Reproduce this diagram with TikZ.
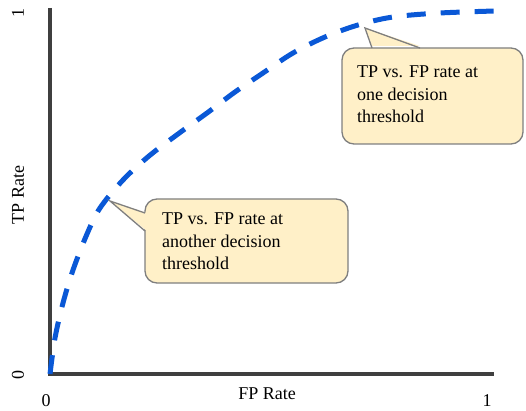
\documentclass[tikz,border=0pt]{standalone}
\usepackage{fontspec}
\setmainfont{Liberation Serif}
\begin{document}
\begin{tikzpicture}[x=1pt,y=-1pt,
  axis/.style={line width=4.5pt,draw=axisgray},
  roc/.style={line width=5pt,draw=rocblue,dash pattern=on 19pt off 15pt},
  callout/.style={draw=calloutborder,fill=calloutfill,line width=1.3pt},
  pointer/.style={draw=calloutborder,line width=1.3pt,line join=miter},
  ctext/.style={font=\fontsize{18}{22.5}\selectfont,align=left,inner sep=0pt,anchor=north west},
  lbl/.style={font=\fontsize{18}{22}\selectfont,inner sep=0pt}]
\definecolor{axisgray}{HTML}{3F3F3F}
\definecolor{rocblue}{HTML}{0A58D6}
\definecolor{calloutborder}{HTML}{7F7F7F}
\definecolor{calloutfill}{HTML}{FFF0C8}
\useasboundingbox (0,0) rectangle (526,411);
% axes
\coordinate (o) at (50,374);
\coordinate (ytop) at (50,8);
\coordinate (xend) at (494,374);
\draw[axis] (ytop) -- (o) -- (xend);
% curve
\draw[roc] plot[smooth,tension=0.55] coordinates {(50,374) (55,338) (63,303) (73,270) (87,234) (100,208) (123,180) (149,156) (178,134) (207,113) (235,92) (263,73) (293,53) (325,37) (358,25) (393,17) (440,13) (495,11)};
% callout 1
\draw[callout,rounded corners=12pt] (342,48) rectangle (523,144);
\coordinate (t1) at (365,28);
\coordinate (b1a) at (372,48);
\coordinate (b1b) at (420,48);
\fill[calloutfill] ([yshift=2pt]b1a) -- (t1) -- ([yshift=2pt]b1b) -- cycle;
\draw[pointer] (b1a) -- (t1) -- (b1b);
\node[ctext] (c1) at (357,66) {TP vs. FP rate at\\one decision\\threshold};
% callout 2
\draw[callout,rounded corners=12pt] (145,199) rectangle (348,283);
\coordinate (t2) at (110,201);
\coordinate (b2a) at (145,213);
\coordinate (b2b) at (145,231);
\fill[calloutfill] ([xshift=2pt]b2a) -- (t2) -- ([xshift=2pt]b2b) -- cycle;
\draw[pointer] (b2a) -- (t2) -- (b2b);
\node[ctext] (c2) at (162,213) {TP vs. FP rate at\\another decision\\threshold};
% labels
\node[lbl,rotate=90] (tp) at (18,195) {TP Rate};
\node[lbl,rotate=90] (y0) at (18,375) {0};
\node[lbl,rotate=90] (y1) at (18,13) {1};
\node[lbl] (fp) at (267,394) {FP Rate};
\node[lbl] (x0) at (46,401) {0};
\node[lbl] (x1) at (487,401) {1};
\end{tikzpicture}
\end{document}
